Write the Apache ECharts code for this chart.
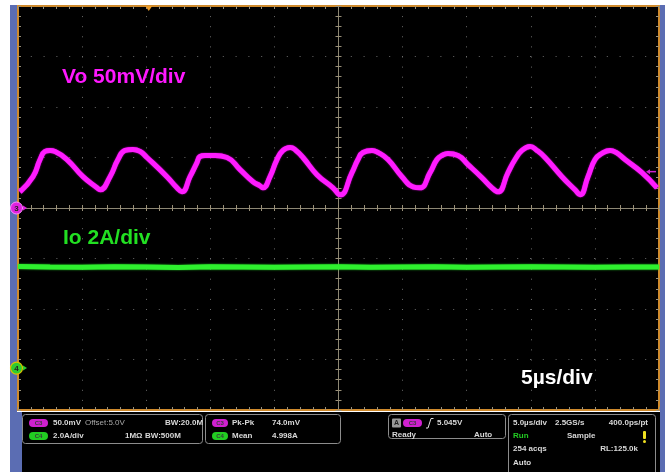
<!DOCTYPE html>
<html><head><meta charset="utf-8">
<script src="https://cdn.jsdelivr.net/npm/echarts@6/dist/echarts.min.js"></script>
<style>html,body{margin:0;padding:0;background:#fff}#c{width:670px;height:472px}</style>
</head><body><div id="c"></div>
<script>
// ---- data ----
// time in microseconds (10 div x 5 us, centred on 0)
const voTime = [-24.85,-23.83,-23.28,-22.89,-22.50,-22.11,-21.18,-19.93,-18.84,-18.60,-17.82,-17.20,-16.65,-16.03,-15.48,-14.94,-13.38,-12.60,-12.21,-11.58,-11.04,-10.80,-10.41,-9.63,-8.70,-7.68,-6.67,-6.12,-5.89,-5.34,-4.80,-4.33,-3.78,-3.32,-2.77,-1.68,-0.43,0.12,1.05,1.52,1.91,2.61,3.08,3.86,4.95,5.81,6.36,7.14,7.68,8.07,8.54,9.32,10.10,11.19,11.97,12.44,13.22,13.77,14.31,14.94,15.48,16.11,17.43,18.45,18.84,19.46,20.01,20.55,21.18,21.65,22.35,23.67,24.84];
// Vo ripple in mV relative to the 5.0 V offset
const voMv = [16,31,48,56,57,56,48,31,20,18,31,48,57,58,56,50,31,20,16,31,45,51,52,52,50,38,26,22,20,31,48,57,60,57,50,33,20,13,35,48,55,57,55,48,31,21,20,35,48,52,54,52,43,30,20,16,35,48,57,61,57,50,31,18,13,31,48,54,57,55,48,35,20];
const ioTime = [-25,-22.5,-20,-17.5,-15,-12.5,-10,-7.5,-5,-2.5,0,2.5,5,7.5,10,12.5,15,17.5,20,22.5,25];
const ioAmp  = [4.02,4.00,3.99,4.01,4.00,3.98,4.01,4.00,3.99,4.00,4.01,3.99,4.00,4.01,3.99,4.00,4.01,4.00,3.99,4.00,4.00];
const xRange = [-25, 25], xStep = 5;        // 5 us/div
const voRange = [-200, 200], voStep = 50;   // 50 mV/div
const ioRange = [-1.66, 14.34];             // 2 A/div, ground marker below centre

const ORANGE = '#cf8a2c', TICK = '#9a9078', CENTER = '#8d8774', DOT = '#6a6a6a';
const FONT = '"Liberation Sans", Arial, sans-serif';

function xAx(pos, onZero, inside, line, split) {
  return {type:'value', min:xRange[0], max:xRange[1], interval:xStep, position:pos,
    axisLabel:{show:false},
    axisLine:{show:true, onZero:onZero, onZeroAxisIndex:0, lineStyle:line},
    axisTick:{show:true, inside:inside, length:3, lineStyle:{color:TICK}},
    minorTick:{show:true, splitNumber:5, length:3, lineStyle:{color:TICK}},
    splitLine:{show:split, lineStyle:{color:DOT, width:1, type:[1,9.1]}}};
}
function yAx(pos, onZero, inside, line, split) {
  return {type:'value', min:voRange[0], max:voRange[1], interval:voStep, position:pos,
    axisLabel:{show:false},
    axisLine:{show:true, onZero:onZero, onZeroAxisIndex:0, lineStyle:line},
    axisTick:{show:true, inside:inside, length:3, lineStyle:{color:TICK}},
    minorTick:{show:true, splitNumber:5, length:3, lineStyle:{color:TICK}},
    splitLine:{show:split, lineStyle:{color:DOT, width:1, type:[1,11.8]}}};
}
const edge = {color:ORANGE, width:2};
const ctr = {color:CENTER, width:1};

const chart = echarts.init(document.getElementById('c'));
chart.setOption({
  backgroundColor:'#fff',
  animation:false,
  grid:{left:18, top:6, width:641, height:404, show:true, backgroundColor:'#000', borderWidth:0},
  xAxis:[
    xAx('bottom', false, true, edge, true),
    xAx('top', false, true, edge, false),
    xAx('top', true, false, ctr, false),
    xAx('bottom', true, false, ctr, false)
  ],
  yAxis:[
    yAx('left', false, true, edge, true),
    yAx('right', false, true, edge, false),
    yAx('left', true, false, ctr, false),
    yAx('right', true, false, ctr, false),
    {type:'value', min:ioRange[0], max:ioRange[1], show:false, splitLine:{show:false}}
  ],
  series:[
    {type:'line', name:'Io', xAxisIndex:0, yAxisIndex:4, showSymbol:false, silent:true,
     data: ioTime.map((t,i)=>[t, ioAmp[i]]),
     lineStyle:{color:'#2ef02e', width:5, shadowBlur:2, shadowColor:'rgba(40,230,40,0.9)'}, z:3},
    {type:'line', name:'Vo', xAxisIndex:0, yAxisIndex:0, showSymbol:false, silent:true,
     smooth:0.5,
     data: voTime.map((t,i)=>[t, voMv[i]]),
     lineStyle:{color:'#ff1cff', width:5, shadowBlur:1.5, shadowColor:'rgba(255,0,255,0.9)'}, z:4}
  ]
});

// ---- decorations: screen frame, channel markers, labels, status panel ----
const y3 = chart.convertToPixel({yAxisIndex:0}, 0);
const y4 = chart.convertToPixel({yAxisIndex:4}, 0);
const yTrig = chart.convertToPixel({yAxisIndex:0}, 36);
const xTrigPos = chart.convertToPixel({xAxisIndex:0}, -14.8);

function t(x,y,s,o){
  o = o||{};
  return {type:'text', x:x, y:y, z:o.z||130, style:{text:s, fill:o.fill||'#d8d8d8',
    font:(o.weight||'bold')+' '+(o.size||8)+'px '+FONT,
    align:o.align||'left', verticalAlign:'middle', textAlign:o.align||'left', textVerticalAlign:'middle'}};
}
function box(x,y,w,h){
  return {type:'rect', z:105, shape:{x:x,y:y,width:w,height:h,r:3}, style:{fill:'#000', stroke:'#8c8c8c', lineWidth:1}};
}
function pill(x,y,label,fill,w){
  w = w||19;
  return [{type:'rect', z:108, shape:{x:x,y:y-4,width:w,height:8,r:4}, style:{fill:fill}},
          {type:'text', x:x+w/2, y:y, z:130, style:{text:label, fill:'#3a3a3a', font:'bold 6px '+FONT, align:'center', verticalAlign:'middle', textAlign:'center', textVerticalAlign:'middle'}}];
}

const g = [
  {type:'rect', z:1, shape:{x:10,y:5,width:7,height:467}, style:{fill:'#5b6db3'}},
  {type:'rect', z:1, shape:{x:17,y:412,width:5,height:60}, style:{fill:'#5b6db3'}},
  {type:'rect', z:1, shape:{x:660,y:5,width:5,height:467}, style:{fill:'#5b6db3'}},
  {type:'rect', z:1, shape:{x:22,y:412,width:638,height:60}, style:{fill:'#000'}},
  // trigger position marker
  {type:'polygon', z:120, shape:{points:[[xTrigPos-3.5,6],[xTrigPos+3.5,6],[xTrigPos,11]]}, style:{fill:'#e89a2a'}},
  // trigger level arrow (right edge)
  {type:'polyline', z:120, shape:{points:[[656,yTrig],[648,yTrig]]}, style:{stroke:'#d020d0', lineWidth:1.5}},
  {type:'polygon', z:120, shape:{points:[[646,yTrig],[650,yTrig-2.5],[650,yTrig+2.5]]}, style:{fill:'#d020d0'}},
  // channel 3 marker
  {type:'circle', z:120, shape:{cx:16.5, cy:y3, r:6}, style:{fill:'#e020e0', stroke:'#ff90ff', lineWidth:1}},
  t(16.5, y3+0.5, '3', {fill:'#222', size:8, align:'center'}),
  {type:'polygon', z:120, shape:{points:[[23,y3-2.5],[23,y3+2.5],[27,y3]]}, style:{fill:'#e020e0'}},
  // channel 4 marker
  {type:'circle', z:120, shape:{cx:16.5, cy:y4, r:6}, style:{fill:'#2ecc2e', stroke:'#d8c400', lineWidth:1.2}},
  t(16.5, y4+0.5, '4', {fill:'#222', size:8, align:'center'}),
  {type:'polygon', z:120, shape:{points:[[23,y4-2.5],[23,y4+2.5],[27,y4]]}, style:{fill:'#2ecc2e'}},
  // big labels
  t(62, 77, 'Vo 50mV/div', {fill:'#ff18ff', size:21}),
  t(63, 238.5, 'Io 2A/div', {fill:'#22e022', size:21}),
  t(521, 378, '5\u00b5s/div', {fill:'#ffffff', size:21}),
  // status boxes
  box(22.5,414.5,180,29), box(205.5,414.5,135,29), box(388.5,414.5,117,24), box(508.5,414.5,147,62),
  t(53,423,'50.0mV'), t(85,423,'Offset:5.0V',{fill:'#a8a8a8', weight:'normal'}),
  t(165,423,'BW:20.0M'),
  t(53,436,'2.0A/div'), t(125,436,'1M\u03a9'), t(145,436,'BW:500M'),
  t(232,423,'Pk-Pk'), t(272,423,'74.0mV'),
  t(232,436,'Mean'), t(272,436,'4.998A'),
  {type:'rect', z:108, shape:{x:392,y:418.5,width:9,height:9,r:1}, style:{fill:'#9a9a9a'}},
  t(396.5,423.5,'A',{fill:'#222', size:7, align:'center'}),
  {type:'polyline', z:110, shape:{points:[[426,428],[428,428],[431,418.5],[433.5,418.5]]}, style:{stroke:'#e0e0e0', lineWidth:1}},
  t(437,423,'5.045V'),
  t(392,435,'Ready'), t(474,435,'Auto'),
  t(513,423,'5.0\u00b5s/div'), t(555,423,'2.5GS/s'), t(648,423,'400.0ps/pt',{align:'right'}),
  t(513,436,'Run',{fill:'#22cc22'}), t(567,436,'Sample'),
  {type:'rect', z:110, shape:{x:643,y:431,width:3,height:8,r:1}, style:{fill:'#f0e020'}},
  {type:'circle', z:110, shape:{cx:644.5,cy:441.5,r:1.5}, style:{fill:'#f0e020'}},
  t(513,449,'254 acqs'), t(638,449,'RL:125.0k',{align:'right'}),
  t(513,463,'Auto')
];
pill(29,423,'C3','#d020d0').forEach(e=>g.push(e));
pill(29,436,'C4','#22cc22').forEach(e=>g.push(e));
pill(212,423,'C3','#d020d0',16).forEach(e=>g.push(e));
pill(212,436,'C4','#22cc22',16).forEach(e=>g.push(e));
pill(403,423,'C3','#d020d0').forEach(e=>g.push(e));
chart.setOption({graphic:{elements:g}});
</script></body></html>
